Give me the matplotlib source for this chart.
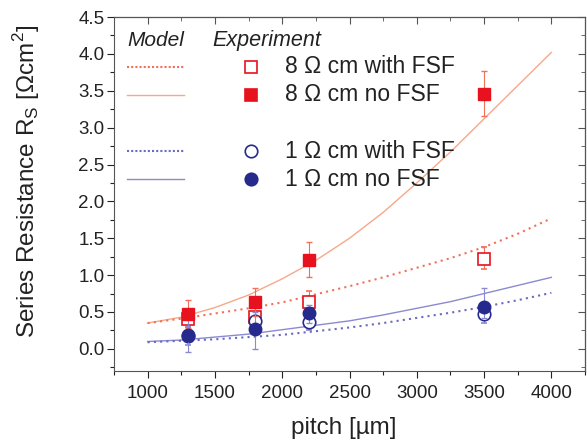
import numpy as np
import matplotlib.pyplot as plt
from matplotlib.ticker import MultipleLocator

plt.rcParams['font.family'] = ['Liberation Sans', 'DejaVu Sans']

# model curves
pitch_model = [1000, 1250, 1500, 1750, 2000, 2250, 2500, 2750, 3000, 3250, 3500, 3750, 4000]
r8_noFSF_model = [0.35, 0.43, 0.56, 0.73, 0.95, 1.20, 1.50, 1.85, 2.25, 2.67, 3.12, 3.57, 4.02]
r8_FSF_model = [0.35, 0.41, 0.48, 0.55, 0.63, 0.74, 0.85, 0.97, 1.10, 1.23, 1.38, 1.56, 1.77]
r1_noFSF_model = [0.10, 0.12, 0.16, 0.20, 0.26, 0.32, 0.38, 0.46, 0.55, 0.64, 0.75, 0.86, 0.97]
r1_FSF_model = [0.09, 0.11, 0.13, 0.16, 0.19, 0.24, 0.29, 0.35, 0.42, 0.49, 0.57, 0.66, 0.76]

# experiment
pitch_exp = [1300, 1800, 2200, 3500]
r8_noFSF = [0.47, 0.63, 1.21, 3.46]
r8_noFSF_lo = [0.28, 0.45, 0.97, 3.16]
r8_noFSF_hi = [0.66, 0.82, 1.45, 3.77]
r8_FSF = [0.40, 0.43, 0.64, 1.22]
r8_FSF_lo = [0.30, 0.32, 0.50, 1.08]
r8_FSF_hi = [0.52, 0.56, 0.78, 1.38]
r1_noFSF = [0.19, 0.27, 0.49, 0.57]
r1_noFSF_lo = [-0.04, 0.00, 0.35, 0.42]
r1_noFSF_hi = [0.40, 0.50, 0.60, 0.82]
r1_FSF = [0.17, 0.38, 0.36, 0.47]
r1_FSF_lo = [0.05, 0.22, 0.25, 0.35]
r1_FSF_hi = [0.30, 0.48, 0.45, 0.60]

c_red = '#e8121e'
c_red_dot = '#f2705a'
c_orange = '#f7a88a'
c_blue = '#262a8c'
c_blue_dot = '#6a6ac0'
c_blue_line = '#8a8ad0'
c_text = '#222222'

fig = plt.figure(figsize=(5.87, 4.43), dpi=100)
ax = fig.add_axes([114/587, 1-371/443, 471/587, 354/443])

ax.plot(pitch_model, r8_noFSF_model, color=c_orange, lw=1.0)
ax.plot(pitch_model, r8_FSF_model, color=c_red_dot, lw=1.5, ls=(0, (1, 2)))
ax.plot(pitch_model, r1_noFSF_model, color=c_blue_line, lw=1.0)
ax.plot(pitch_model, r1_FSF_model, color=c_blue_dot, lw=1.5, ls=(0, (1, 2)))

def err(y, lo, hi):
    y = np.array(y); return [y - np.array(lo), np.array(hi) - y]

ax.errorbar(pitch_exp, r8_FSF, yerr=err(r8_FSF, r8_FSF_lo, r8_FSF_hi), fmt='s', ms=8,
            mfc='white', mec=c_red, mew=1.2, ecolor=c_red_dot, elinewidth=0.8, capsize=2.5, zorder=3)
ax.errorbar(pitch_exp, r8_noFSF, yerr=err(r8_noFSF, r8_noFSF_lo, r8_noFSF_hi), fmt='s', ms=8,
            mfc=c_red, mec=c_red, ecolor=c_red_dot, elinewidth=0.8, capsize=2.5, zorder=4)
ax.errorbar(pitch_exp, r1_FSF, yerr=err(r1_FSF, r1_FSF_lo, r1_FSF_hi), fmt='o', ms=9,
            mfc='white', mec=c_blue, mew=1.2, ecolor=c_blue_line, elinewidth=0.8, capsize=2.5, zorder=3)
ax.errorbar(pitch_exp, r1_noFSF, yerr=err(r1_noFSF, r1_noFSF_lo, r1_noFSF_hi), fmt='o', ms=9,
            mfc=c_blue, mec=c_blue, ecolor=c_blue_line, elinewidth=0.8, capsize=2.5, zorder=4)

# hand-made legend
tr = ax.transAxes
ax.text(0.028, 0.935, 'Model', style='italic', fontsize=15, transform=tr, va='center', color=c_text)
ax.text(0.208, 0.935, 'Experiment', style='italic', fontsize=15.5, transform=tr, va='center', color=c_text)
rows = [0.859, 0.780, 0.621, 0.542]
labels = ['8 Ω cm with FSF', '8 Ω cm no FSF', '1 Ω cm with FSF', '1 Ω cm no FSF']
line_c = [c_red_dot, c_orange, c_blue_dot, c_blue_line]
line_s = [(0, (1, 1)), '-', (0, (1, 1)), '-']
line_w = [1.5, 1.0, 1.5, 1.0]
mk = ['s', 's', 'o', 'o']
mfc = ['white', c_red, 'white', c_blue]
mec = [c_red, c_red, c_blue, c_blue]
for yy, lab, lc, ls, lw, m, fc, ec in zip(rows, labels, line_c, line_s, line_w, mk, mfc, mec):
    ax.plot([0.028, 0.149], [yy, yy], color=lc, ls=ls, lw=lw, transform=tr)
    ax.plot([0.291], [yy], marker=m, ms=8 if m == 's' else 9, mfc=fc, mec=ec, mew=1.2,
            ls='none', transform=tr)
    ax.text(0.363, yy, lab, fontsize=16.5, transform=tr, va='center', color=c_text)

ax.set_xlim(750, 4250)
ax.set_ylim(-0.3, 4.5)
ax.xaxis.set_major_locator(MultipleLocator(500))
ax.xaxis.set_minor_locator(MultipleLocator(250))
ax.yaxis.set_major_locator(MultipleLocator(0.5))
ax.yaxis.set_minor_locator(MultipleLocator(0.25))
ax.set_xticks(range(1000, 4001, 500))
ax.yaxis.set_major_formatter(plt.FormatStrFormatter('%.1f'))
ax.tick_params(which='both', direction='out', top=False, right=False, labelsize=13.5,
               colors=c_text)
ax.tick_params(axis='y', pad=2)
ax.tick_params(axis='x', pad=5)
ax.tick_params(which='major', length=5, width=0.8)
ax.tick_params(which='minor', length=3, width=0.8)
for s in ax.spines.values():
    s.set_color('#555555')

# inward ticks on the top and right edges
ax2 = ax.secondary_xaxis('top')
ax2.xaxis.set_major_locator(MultipleLocator(500))
ax2.xaxis.set_minor_locator(MultipleLocator(250))
ax2.tick_params(which='both', direction='in', labeltop=False, colors='#555555')
ax2.tick_params(which='major', length=5)
ax2.tick_params(which='minor', length=3)
ax3 = ax.secondary_yaxis('right')
ax3.yaxis.set_major_locator(MultipleLocator(0.5))
ax3.yaxis.set_minor_locator(MultipleLocator(0.25))
ax3.tick_params(which='both', direction='in', labelright=False, colors='#555555')
ax3.tick_params(which='major', length=5)
ax3.tick_params(which='minor', length=3)

ax.set_xlabel('pitch [µm]', fontsize=17.5, color=c_text)
ax.set_ylabel(r'Series Resistance R$_\mathregular{S}$ [Ωcm$^\mathregular{2}$]', fontsize=17.5,
              color=c_text)
ax.xaxis.set_label_coords(0.487, -0.131)
ax.yaxis.set_label_coords(-0.153, 0.537)

fig.savefig('out.png', dpi=100)
